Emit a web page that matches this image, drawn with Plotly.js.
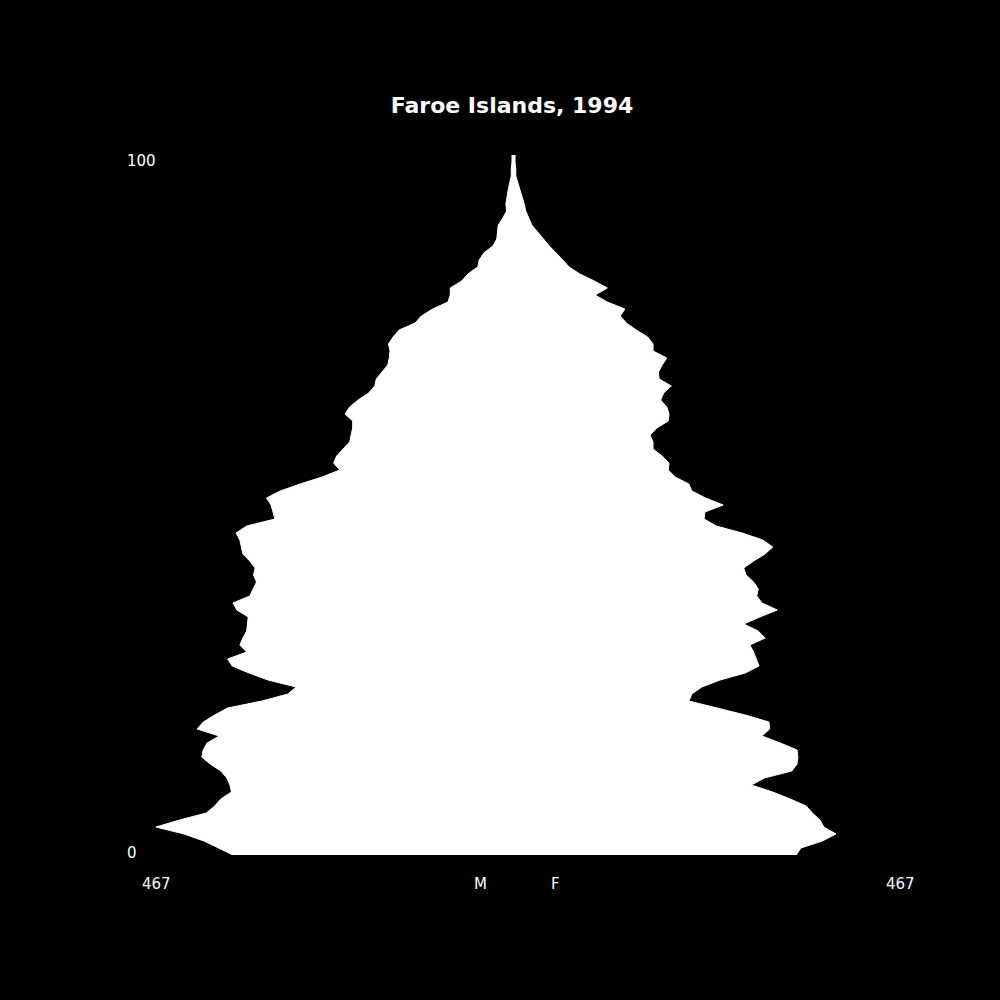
<!DOCTYPE html>
<html>
<head>
<meta charset="utf-8">
<script src="https://cdn.plot.ly/plotly-3.0.1.min.js"></script>
<style>
  html, body { margin: 0; padding: 0; background: #000; }
  #chart { width: 1000px; height: 1000px; }
</style>
</head>
<body>
<div id="chart"></div>
<script>
// single-year ages 0..100
const ages = Array.from({ length: 101 }, (_, i) => i)

// males by age (drawn to the left)
const males = [
  366, 386, 404, 430, 467, 436, 401, 390, 382, 368,
  370, 374, 382, 396, 407, 405, 400, 384, 413, 405,
  390, 373, 328, 294, 283, 320, 345, 367, 373, 348,
  357, 353, 348, 347, 346, 361, 366, 344, 340, 335,
  339, 337, 344, 353, 355, 357, 362, 348, 311, 313,
  316, 322, 304, 278, 249, 226, 234, 230, 221, 213,
  211, 209, 209, 219, 213, 202, 188, 180, 178, 171,
  163, 161, 160, 162, 156, 148, 127, 119, 104, 84,
  81, 81, 66, 58, 45, 43, 37, 25, 20, 19,
  18, 12, 7, 8, 7, 5, 3, 1, 1, 0,
  0,
]

// females by age (drawn to the right)
const females = [
  373, 379, 407, 425, 409, 404, 394, 386, 365, 342,
  314, 331, 367, 374, 375, 374, 352, 328, 338, 337,
  306, 270, 232, 236, 249, 273, 306, 324, 321, 317,
  312, 332, 323, 304, 325, 348, 328, 321, 323, 317,
  307, 304, 317, 332, 342, 329, 302, 268, 252, 253,
  277, 254, 236, 232, 214, 205, 206, 197, 185, 185,
  181, 190, 205, 206, 203, 195, 199, 209, 193, 192,
  197, 203, 185, 185, 178, 163, 150, 142, 148, 125,
  109, 125, 108, 89, 75, 67, 58, 49, 41, 33,
  26, 22, 18, 16, 13, 10, 8, 5, 5, 4,
  4,
]

const chartTitle = 'Faroe Islands, 1994'
const ageLabels = ['100', '0']
const scaleLabel = '467'
const sexLabels = ['M', 'F']

const el = document.getElementById('chart')

const data = [
  {
    x: males.map(v => -v),
    y: ages,
    mode: 'lines',
    fill: 'tozerox',
    fillcolor: '#ffffff',
    line: { color: '#ffffff', width: 1 },
    hoverinfo: 'skip',
    showlegend: false,
  },
  {
    x: females,
    y: ages,
    mode: 'lines',
    fill: 'tozerox',
    fillcolor: '#ffffff',
    line: { color: '#ffffff', width: 1 },
    hoverinfo: 'skip',
    showlegend: false,
  },
]

const labelFont = { family: 'DejaVu Sans', size: 15, color: '#ffffff' }

const annotations = [
  // age labels on the left
  { text: ageLabels[0], x: -0.0417, y: 0.992, xanchor: 'left' },
  { text: ageLabels[1], x: -0.0417, y: 0.003, xanchor: 'left' },
  // bottom row
  { text: scaleLabel, x: 0, y: -0.0414, xanchor: 'center' },
  { text: sexLabels[0], x: 0.4368, y: -0.0414, xanchor: 'center' },
  { text: sexLabels[1], x: 0.5376, y: -0.0414, xanchor: 'center' },
  { text: scaleLabel, x: 1, y: -0.0414, xanchor: 'center' },
].map(a => ({
  ...a,
  xref: 'paper',
  yref: 'paper',
  yanchor: 'middle',
  showarrow: false,
  font: labelFont,
}))

const layout = {
  width: 1000,
  height: 1000,
  paper_bgcolor: '#000000',
  plot_bgcolor: '#000000',
  font: { family: 'DejaVu Sans', color: '#ffffff' },
  margin: { l: 156, r: 100, t: 155, b: 145 },
  title: {
    text: '<b>' + chartTitle + '</b>',
    font: { family: 'DejaVu Sans', size: 22, color: '#ffffff' },
    xref: 'container',
    x: 0.512,
    xanchor: 'center',
    yref: 'container',
    y: 0.895,
    yanchor: 'middle',
  },
  xaxis: {
    range: [-467, 509],
    showgrid: false,
    zeroline: false,
    showline: false,
    showticklabels: false,
    ticks: '',
  },
  yaxis: {
    range: [0, 100],
    showgrid: false,
    zeroline: false,
    showline: false,
    showticklabels: false,
    ticks: '',
  },
  annotations,
  showlegend: false,
}

Plotly.newPlot(el, data, layout, { displayModeBar: false, staticPlot: true })
</script>
</body>
</html>
